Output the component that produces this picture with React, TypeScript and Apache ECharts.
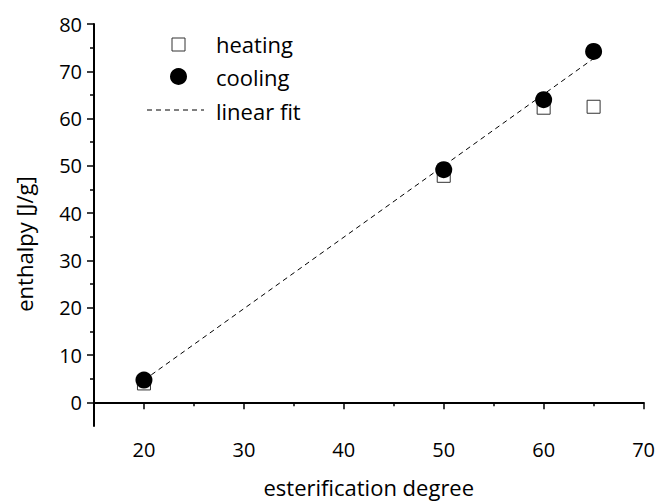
import React, { useEffect, useRef } from "react";
import * as echarts from "echarts";

const xValues = [20, 50, 60, 65];
const heatingY = [4.0, 47.9, 62.3, 62.5];
const coolingY = [4.7, 49.2, 64.0, 74.2];
const fitX = [20, 65];
const fitY = [4.7, 72.7];
const xMajorTicks = [20, 30, 40, 50, 60, 70];
const xMinorTicks = [15, 25, 35, 45, 55, 65];
const yMajorTicks = [0, 10, 20, 30, 40, 50, 60, 70, 80];
const yMinorTicks = [5, 15, 25, 35, 45, 55, 65, 75];
const legendLabels = ["heating", "cooling", "linear fit"];
const xTitle = "esterification degree";
const yTitle = "enthalpy [J/g]";

const FONT = "Open Sans";

export default function App() {
  const ref = useRef<HTMLDivElement>(null);
  useEffect(() => {
    if (!ref.current) return;
    const chart = echarts.init(ref.current, null, { renderer: "svg" });
    const labelStyle = { color: "#000", fontFamily: FONT, fontSize: 20 };
    const titleStyle = { color: "#000", fontFamily: FONT, fontSize: 22 };
    const axisLine = { show: true, lineStyle: { color: "#000", width: 2 } };
    chart.setOption({
      animation: false,
      backgroundColor: "#fff",
      grid: { left: 94, right: 13, top: 24, bottom: 75 },
      xAxis: [
        {
          type: "value",
          min: 15,
          max: 70,
          position: "bottom",
          name: xTitle,
          nameLocation: "middle",
          nameGap: 50,
          nameTextStyle: { ...titleStyle },
          axisLine,
          axisTick: { show: true, customValues: xMajorTicks, length: 7, lineStyle: { color: "#000", width: 1.5 } },
          axisLabel: { ...labelStyle, customValues: xMajorTicks, margin: 13 },
          splitLine: { show: false },
        },
        {
          type: "value",
          min: 15,
          max: 70,
          position: "bottom",
          axisLine: { show: false },
          axisTick: { show: true, customValues: xMinorTicks, length: 4, lineStyle: { color: "#000", width: 1.5 } },
          axisLabel: { show: false },
          splitLine: { show: false },
        },
      ],
      yAxis: [
        {
          type: "value",
          min: -5,
          max: 80,
          position: "left",
          axisLine,
          axisTick: { show: true, customValues: yMajorTicks, length: 7, lineStyle: { color: "#000", width: 1.5 } },
          axisLabel: { ...labelStyle, customValues: yMajorTicks, margin: 12 },
          splitLine: { show: false },
        },
        {
          type: "value",
          min: -5,
          max: 80,
          position: "left",
          axisLine: { show: false },
          axisTick: { show: true, customValues: yMinorTicks, length: 4, lineStyle: { color: "#000", width: 1.5 } },
          axisLabel: { show: false },
          splitLine: { show: false },
        },
      ],
      graphic: [
        {
          type: "text",
          x: 24,
          y: 244,
          rotation: Math.PI / 2,
          style: {
            text: yTitle,
            fill: "#000",
            font: `22px "${FONT}"`,
            align: "center",
            verticalAlign: "middle",
          },
        },
        {
          type: "rect",
          shape: { x: 172, y: 38, width: 13, height: 13 },
          style: { fill: "#fff", stroke: "#333", lineWidth: 1 },
        },
        {
          type: "circle",
          shape: { cx: 178.5, cy: 76.5, r: 8.5 },
          style: { fill: "#000" },
        },
        {
          type: "line",
          shape: { x1: 147, y1: 110, x2: 204, y2: 110 },
          style: { stroke: "#000", lineWidth: 1, lineDash: [5, 4] },
        },
        ...legendLabels.map((t, i) => ({
          type: "text",
          x: 216,
          y: [44, 77, 111][i],
          style: {
            text: t,
            fill: "#000",
            font: `22px "${FONT}"`,
            verticalAlign: "middle",
          },
        })),
      ],
      series: [
        {
          type: "line",
          name: "linear fit",
          data: fitX.map((x, i) => [x, fitY[i]]),
          symbol: "none",
          lineStyle: { color: "#000", width: 1, type: [5, 4] },
          z: 1,
        },
        {
          type: "scatter",
          name: "heating",
          data: xValues.map((x, i) => [x, heatingY[i]]),
          symbol: "rect",
          symbolSize: 13,
          itemStyle: { color: "#fff", borderColor: "#333", borderWidth: 1, opacity: 1 },
          z: 2,
        },
        {
          type: "scatter",
          name: "cooling",
          data: xValues.map((x, i) => [x, coolingY[i]]),
          symbol: "circle",
          symbolSize: 17,
          itemStyle: { color: "#000", opacity: 1 },
          z: 3,
        },
      ],
    });
    return () => chart.dispose();
  }, []);
  return (
    <div
      ref={ref}
      style={{ position: "fixed", left: 0, top: 0, width: 658, height: 503, background: "#fff" }}
    />
  );
}
